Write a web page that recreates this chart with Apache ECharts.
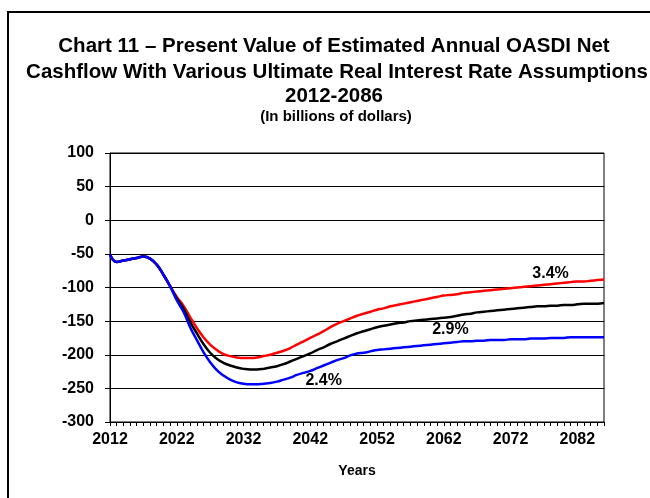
<!DOCTYPE html>
<html>
<head>
<meta charset="utf-8">
<script src="https://cdn.jsdelivr.net/npm/echarts@6/dist/echarts.min.js"></script>
<style>
  html, body { margin: 0; padding: 0; background: #fff; }
  #chart { width: 650px; height: 498px; }
</style>
</head>
<body>
<div id="chart"></div>
<script>
// years 2012..2086
var years = [];
for (var y = 2012; y <= 2086; y++) years.push(String(y));

var yTicks = { min: -300, max: 100, step: 50 };

// 3.4% ultimate real interest rate
var rate34 = [
  -51, -62, -60, -58, -56, -54, -57, -66, -81, -98,
  -114, -127, -144, -160, -174, -185, -193, -199, -202, -204,
  -205, -205, -204, -202, -200, -197, -194, -190, -185, -180,
  -175, -170, -165, -159, -154, -150, -146, -142, -139, -136,
  -133, -131, -128, -126, -124, -122, -120, -118, -116, -114,
  -112, -111, -110, -108, -107, -106, -105, -104, -103, -102,
  -101, -100, -99, -98, -97, -96, -95, -94, -93, -92,
  -91, -91, -90, -89, -88
];

// 2.9% ultimate real interest rate
var rate29 = [
  -51, -62, -60, -58, -56, -54, -57, -66, -81, -98,
  -116, -131, -151, -168, -184, -197, -206, -212, -216, -219,
  -221, -222, -222, -221, -219, -217, -214, -210, -206, -202,
  -198, -193, -189, -184, -180, -176, -172, -168, -165, -162,
  -159, -157, -155, -153, -152, -150, -149, -148, -147, -146,
  -145, -144, -142, -140, -139, -137, -136, -135, -134, -133,
  -132, -131, -130, -129, -128, -128, -127, -127, -126, -126,
  -125, -124, -124, -124, -123
];

// 2.4% ultimate real interest rate
var rate24 = [
  -51, -62, -60, -58, -56, -54, -57, -66, -81, -98,
  -119, -136, -159, -178, -196, -211, -223, -231, -237, -241,
  -243, -244, -244, -243, -242, -240, -237, -234, -230, -227,
  -224, -220, -216, -212, -208, -205, -201, -198, -197, -195,
  -193, -192, -191, -190, -189, -188, -187, -186, -185, -184,
  -183, -182, -181, -180, -180, -179, -179, -178, -178, -178,
  -177, -177, -177, -176, -176, -176, -175, -175, -175, -174,
  -174, -174, -174, -174, -174
];

var FONT = "'Liberation Sans', Arial, sans-serif";

var chart = echarts.init(document.getElementById('chart'));

function tag(text, year, value) {
  return {
    markPoint: {
      symbol: 'circle',
      symbolSize: 0,
      silent: true,
      label: {
        show: true,
        position: 'inside',
        formatter: text,
        color: '#000',
        fontFamily: FONT,
        fontWeight: 'bold',
        fontSize: 16
      },
      data: [{ coord: [year, value] }]
    }
  };
}

function line(name, data, color, label) {
  var s = {
    name: name,
    type: 'line',
    data: data,
    smooth: 0.45,
    symbol: 'none',
    lineStyle: { color: color, width: 2.5 },
    itemStyle: { color: color },
    z: 3
  };
  return Object.assign(s, tag(label[0], label[1], label[2]));
}

function titleLine(text, x, y, size) {
  return {
    type: 'text', x: x, y: y,
    style: {
      text: text,
      font: 'bold ' + size + 'px ' + FONT,
      fill: '#000', textAlign: 'center', textVerticalAlign: 'middle'
    }
  };
}

var option = {
  animation: false,
  backgroundColor: '#fff',
  textStyle: { fontFamily: FONT },
  graphic: [
    {
      type: 'rect',
      shape: { x: 8, y: 12, width: 700, height: 600 },
      style: { fill: 'none', stroke: '#000', lineWidth: 2 }
    },
    titleLine('Chart 11 – Present Value of Estimated Annual OASDI Net', 334, 46, 20.5),
    titleLine('Cashflow With Various Ultimate Real Interest Rate Assumptions', 337, 72, 20.5),
    titleLine('2012-2086', 334, 96, 20.5),
    titleLine('(In billions of dollars)', 336, 117, 15)
  ],
  grid: {
    left: 110,
    right: 46,
    top: 153,
    bottom: 76,
    show: true,
    borderColor: '#000',
    borderWidth: 1,
    backgroundColor: '#fff'
  },
  xAxis: {
    type: 'category',
    data: years,
    boundaryGap: false,
    name: 'Years',
    nameLocation: 'middle',
    nameGap: 42,
    nameTextStyle: { color: '#000', fontWeight: 'bold', fontSize: 14, fontFamily: FONT },
    axisLine: { onZero: false, lineStyle: { color: '#000', width: 1 } },
    axisTick: { show: true, interval: 0, length: 4, lineStyle: { color: '#000' } },
    axisLabel: {
      interval: 9,
      color: '#000',
      fontWeight: 'bold',
      fontSize: 16,
      fontFamily: FONT,
      margin: 10
    },
    splitLine: { show: false }
  },
  yAxis: {
    type: 'value',
    min: yTicks.min,
    max: yTicks.max,
    interval: yTicks.step,
    axisLine: { show: true, lineStyle: { color: '#000', width: 1 } },
    axisTick: { show: true, length: 5, lineStyle: { color: '#000' } },
    axisLabel: {
      color: '#000',
      fontWeight: 'bold',
      fontSize: 16,
      fontFamily: FONT,
      margin: 16
    },
    splitLine: { show: true, lineStyle: { color: '#000', width: 1 } }
  },
  series: [
    line('3.4%', rate34, '#ff0000', ['3.4%', '2078', -80]),
    line('2.9%', rate29, '#000000', ['2.9%', '2063', -163]),
    line('2.4%', rate24, '#0000ff', ['2.4%', '2044', -239])
  ]
};

chart.setOption(option);
</script>
</body>
</html>
